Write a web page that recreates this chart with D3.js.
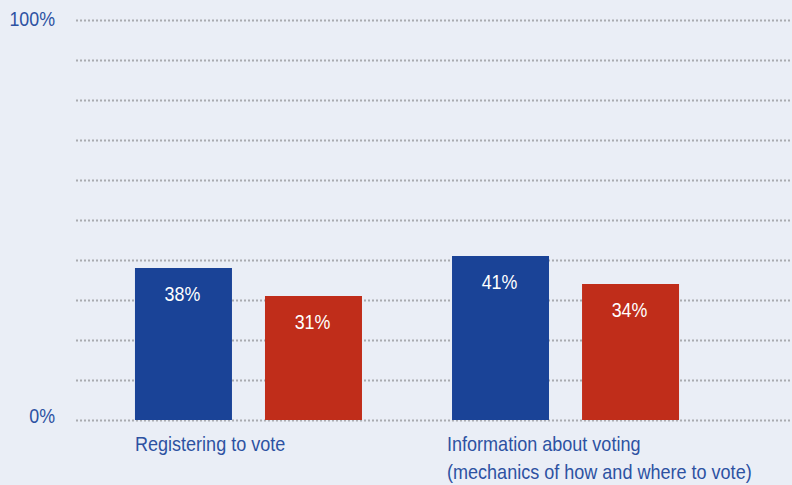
<!DOCTYPE html>
<html>
<head>
<meta charset="utf-8">
<script src="https://cdn.jsdelivr.net/npm/d3@7"></script>
<style>
  body { margin: 0; background: #eaeef6; }
  svg { display: block; }
</style>
</head>
<body>
<div id="chartDiv"></div>
<script>
// Chart data
var categories = [
  ["Registering to vote"],
  ["Information about voting", "(mechanics of how and where to vote)"]
];
var seriesNames = ["blue", "red"];
var blueValues = [38, 41];
var redValues = [31, 34];
var tickValues = [0, 10, 20, 30, 40, 50, 60, 70, 80, 90, 100];
var tickLabels = { 0: "0%", 100: "100%" };

var svgWidth = 792;
var svgHeight = 485;
var colors = { blue: "#1a4397", red: "#c02d1a" };
var textBlue = '#2d52a2';
// the original font is tall and narrow, so squeeze Liberation Sans a bit
var squeeze = 0.85;

var svg = d3.select('#chartDiv')
            .append('svg')
            .attr('width', svgWidth)
            .attr('height', svgHeight);

svg.append('rect')
   .attr('width', svgWidth)
   .attr('height', svgHeight)
   .attr('fill', '#eaeef6');

// Scales
var y = d3.scaleLinear().domain([0, 100]).range([420, 20]);
var x0 = d3.scaleBand()
           .domain(d3.range(categories.length))
           .range([76, 738])
           .paddingInner(0.284)
           .paddingOuter(0.186);
var x1 = d3.scaleBand()
           .domain(seriesNames)
           .range([0, x0.bandwidth()])
           .paddingInner(0.254);

// Dotted gridlines
svg.selectAll('.grid')
   .data(tickValues)
   .enter()
   .append('line')
   .attr('class', 'grid')
   .attr('x1', 76)
   .attr('x2', svgWidth)
   .attr('y1', function(d) { return y(d) + 0.5; })
   .attr('y2', function(d) { return y(d) + 0.5; })
   .attr('stroke', '#a9abb0')
   .attr('stroke-width', 2)
   .attr('stroke-dasharray', '2,2');

// Y labels (only 0 and 100)
svg.selectAll('.ylabel')
   .data(tickValues.filter(function(d) { return tickLabels[d]; }))
   .enter()
   .append('text')
   .attr('class', 'ylabel')
   .attr('transform', function(d) {
     return 'translate(55,' + (y(d) + (d === 0 ? 3 : 6)) + ') scale(' + squeeze + ',1)';
   })
   .attr('text-anchor', 'end')
   .attr('fill', textBlue)
   .style('font-family', '"Liberation Sans", Arial, sans-serif')
   .style('font-size', '21px')
   .text(function(d) { return tickLabels[d]; });

// Bars
var barData = [];
categories.forEach(function(c, i) {
  barData.push({ cat: i, series: 'blue', value: blueValues[i] });
  barData.push({ cat: i, series: 'red', value: redValues[i] });
});

svg.selectAll('.bar')
   .data(barData)
   .enter()
   .append('rect')
   .attr('class', 'bar')
   .attr('x', function(d) { return x0(d.cat) + x1(d.series); })
   .attr('y', function(d) { return y(d.value); })
   .attr('width', x1.bandwidth())
   .attr('height', function(d) { return y(0) - y(d.value); })
   .attr('fill', function(d) { return colors[d.series]; });

svg.selectAll('.barlabel')
   .data(barData)
   .enter()
   .append('text')
   .attr('class', 'barlabel')
   .attr('transform', function(d) {
     var cx = x0(d.cat) + x1(d.series) + x1.bandwidth() / 2 - 1;
     return 'translate(' + cx + ',' + (y(d.value) + 33) + ') scale(' + squeeze + ',1)';
   })
   .attr('text-anchor', 'middle')
   .attr('fill', '#ffffff')
   .style('font-family', '"Liberation Sans", Arial, sans-serif')
   .style('font-size', '21px')
   .text(function(d) { return d.value + '%'; });

// Category labels (second one sits a few px left of its bar)
var catText = svg.selectAll('.catlabel')
   .data(categories)
   .enter()
   .append('text')
   .attr('class', 'catlabel')
   .attr('transform', function(d, i) {
     var lx = x0(i) - (i > 0 ? 5 : 0);
     return 'translate(' + lx + ',451) scale(0.88,1)';
   })
   .attr('fill', textBlue)
   .style('font-family', '"Liberation Sans", Arial, sans-serif')
   .style('font-size', '20.5px');

catText.selectAll('tspan')
   .data(function(d) { return d; })
   .enter()
   .append('tspan')
   .attr('x', 0)
   .attr('dy', function(d, i) { return i === 0 ? 0 : 28; })
   .text(function(d) { return d; });
</script>
</body>
</html>
